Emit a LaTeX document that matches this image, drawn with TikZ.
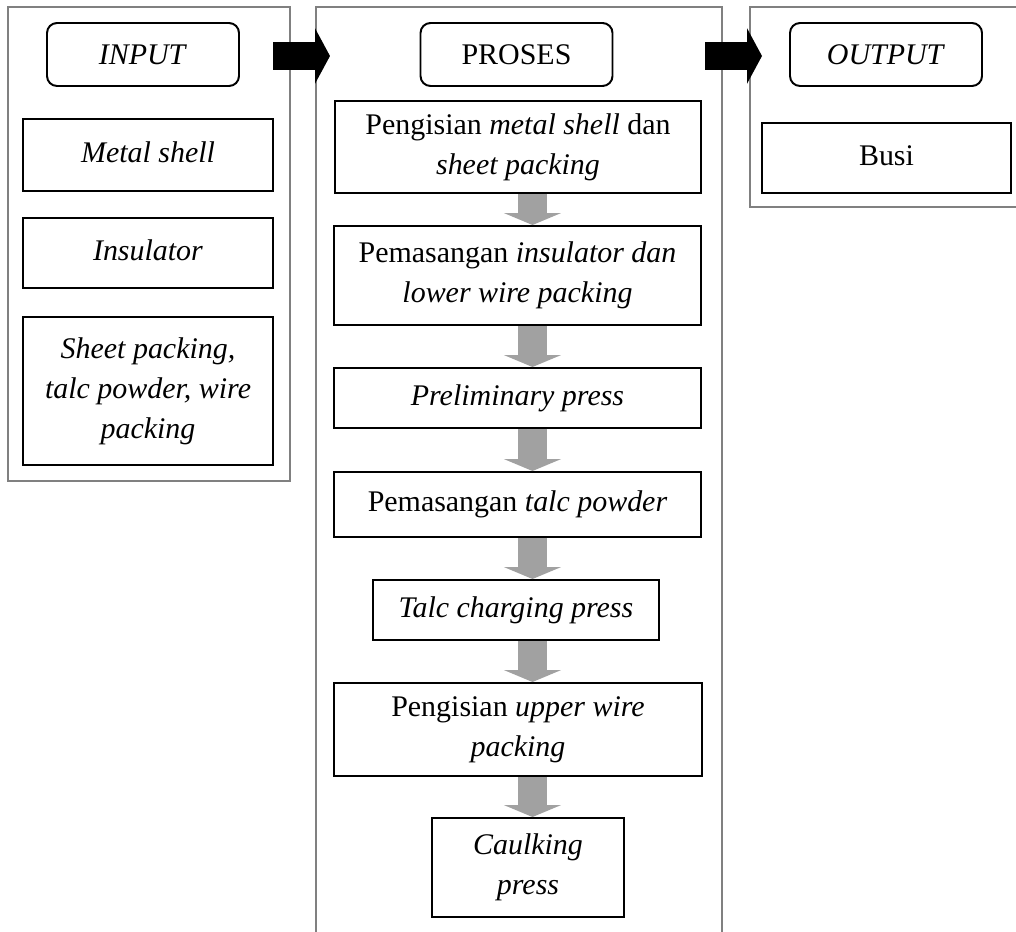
\documentclass[tikz,border=0pt]{standalone}
\usepackage{fontspec}
\setmainfont{Liberation Serif}
\usetikzlibrary{arrows.meta}

\begin{document}
\begin{tikzpicture}[
	font=\fontsize{21.3}{28.5}\selectfont,
	frame/.style={draw=black!50, line width=1pt},
	box/.style={draw, line width=1.4pt, fill=white, align=center, inner sep=0pt},
	title/.style={box, rounded corners=0.25cm, minimum width=4.8cm, minimum height=1.575cm},
	bigarrow/.style={line width=0.7cm, -{Triangle[width=1.375cm, length=0.375cm]}},
	steparrow/.style={draw=black!37, line width=0.725cm, -{Triangle[width=1.425cm, length=0.3cm]}}
	]
	\clip (0,0) rectangle (25.4,-23.3);
	
	% the three columns
	\draw[frame] (0.2,-0.175) rectangle (7.25,-12.025);
	\draw[frame] (7.9,-0.175) rectangle (18.05,-23.6);
	\draw[frame] (18.75,-0.175) rectangle (25.6,-5.175);
	
	\node[title] (IN) at (3.575,-1.3625) {\textit{INPUT}};
	\node[title] (PR) at (12.9125,-1.3625) {PROSES};
	\node[title] (OUT) at (22.15,-1.3625) {\textit{OUTPUT}};
	
	% input
	\node[box, text depth=0.38em, minimum width=6.25cm, minimum height=1.8cm] (I1) at (3.7,-3.875) {\textit{Metal shell}};
	\node[box, text depth=0.38em, minimum width=6.25cm, minimum height=1.75cm] (I2) at (3.7,-6.325) {\textit{Insulator}};
	\node[box, minimum width=6.25cm, minimum height=3.7cm] (I3) at (3.7,-9.775) {\textit{Sheet packing,}\\ \textit{talc powder, wire}\\ \textit{packing}};
	
	% proses
	\node[box, minimum width=9.15cm, minimum height=2.3cm] (P1) at (12.95,-3.675) {Pengisian \textit{metal shell} dan\\ \textit{sheet packing}};
	\node[box, minimum width=9.175cm, minimum height=2.475cm] (P2) at (12.9375,-6.8875) {Pemasangan \textit{insulator dan}\\ \textit{lower wire packing}};
	\node[box, minimum width=9.175cm, minimum height=1.5cm] (P3) at (12.9375,-9.95) {\textit{Preliminary press}};
	\node[box, minimum width=9.175cm, minimum height=1.625cm] (P4) at (12.9375,-12.6125) {Pemasangan \textit{talc powder}};
	\node[box, minimum width=7.15cm, minimum height=1.5cm] (P5) at (12.9,-15.25) {\textit{Talc charging press}};
	\node[box, minimum width=9.2cm, minimum height=2.325cm] (P6) at (12.95,-18.2375) {Pengisian \textit{upper wire}\\ \textit{packing}};
	\node[box, minimum width=4.8cm, minimum height=2.475cm] (P7) at (13.2,-21.6875) {\textit{Caulking}\\ \textit{press}};
	
	% output
	\node[box, text depth=0.38em, minimum width=6.225cm, minimum height=1.75cm] (O1) at (22.1625,-3.95) {Busi};
	
	% arrows between columns
	\coordinate (a1) at (6.825,-1.4);
	\coordinate (b1) at (8.25,-1.4);
	\coordinate (a2) at (17.625,-1.4);
	\coordinate (b2) at (19.05,-1.4);
	\draw[bigarrow] (a1) -- (b1);
	\draw[bigarrow] (a2) -- (b2);
	
	% arrows down the process
	\coordinate (ax) at (13.3125,0);
	\foreach \a/\b in {P1/P2, P2/P3, P3/P4, P4/P5, P5/P6, P6/P7}
		\draw[steparrow] (\a.south -| ax) -- (\b.north -| ax);
\end{tikzpicture}
\end{document}
